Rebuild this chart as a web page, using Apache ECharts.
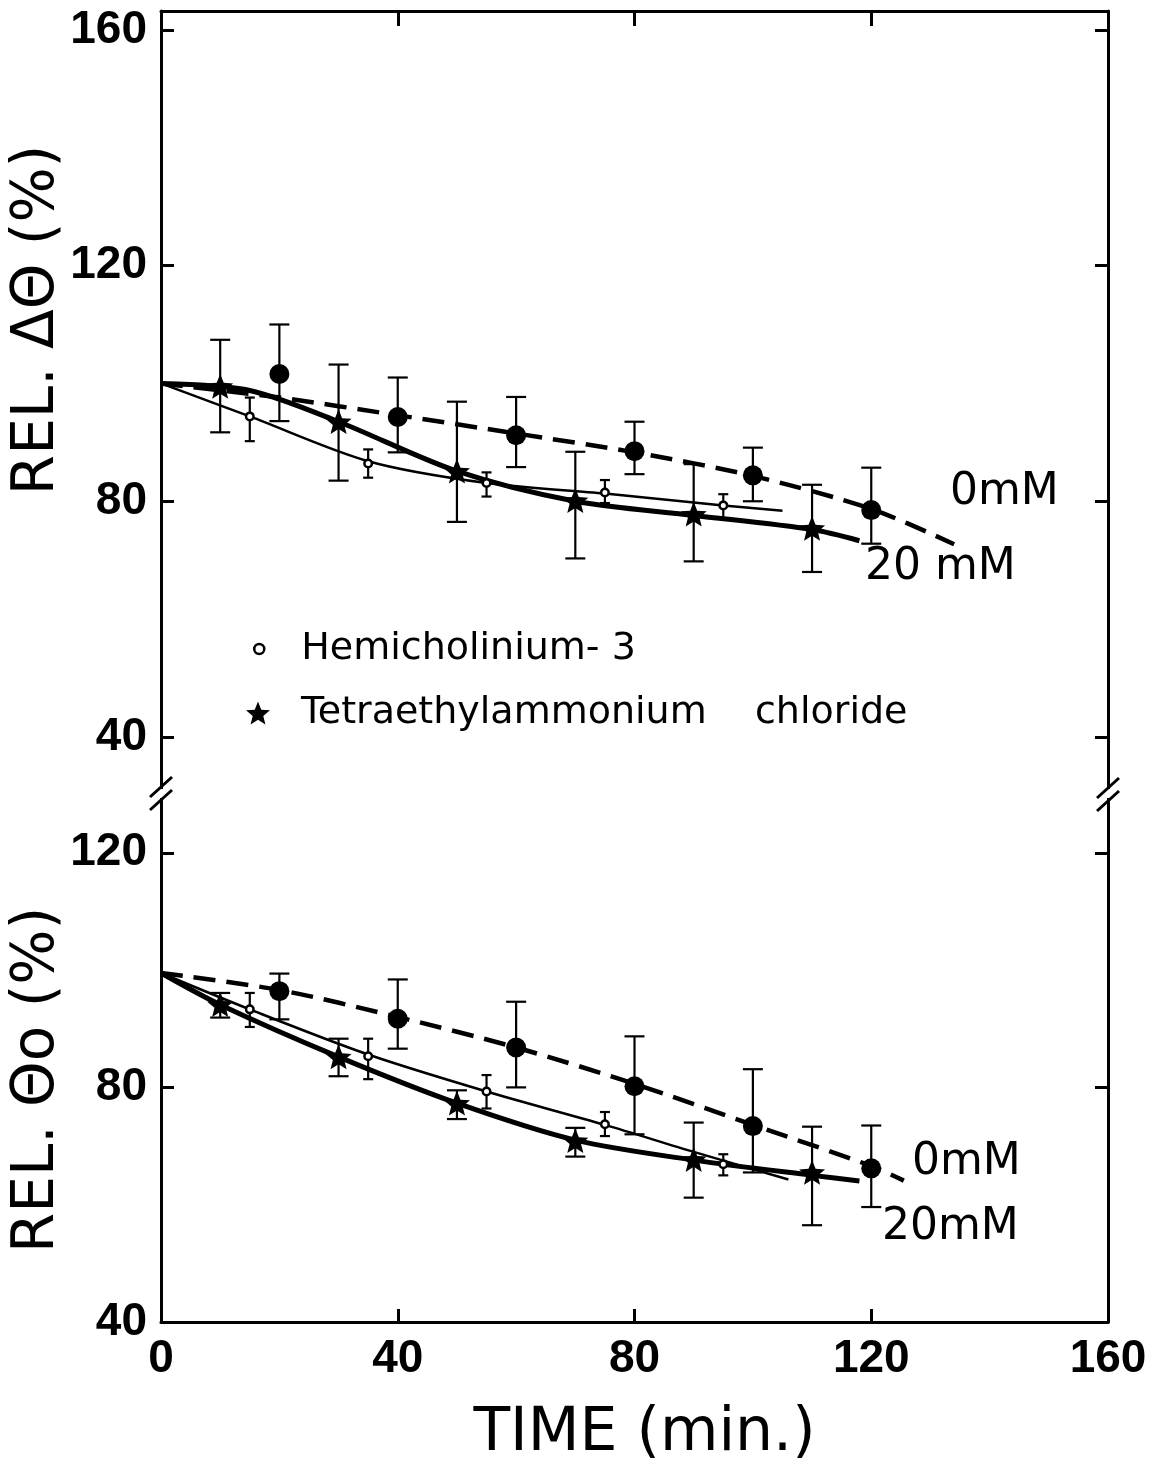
<!DOCTYPE html>
<html><head><meta charset="utf-8">
<script src="https://cdn.jsdelivr.net/npm/echarts@6/dist/echarts.min.js"></script>
<style>html,body{margin:0;padding:0;background:#fff}#c{width:1157px;height:1465px}</style>
</head><body><div id="c"></div>
<script>
// ---------------- data ----------------
const xTicks = [0, 40, 80, 120, 160];
const yTicksTop = [40, 80, 120, 160];
const yTicksBottom = [40, 80, 120];

// Upper panel: REL. ΔΘ (%)
const ctrlTopX  = [20, 40, 60, 80, 100, 120];
const ctrlTopY  = [101.6, 94.3, 91.2, 88.5, 84.4, 78.5];
const ctrlTopHi = [110.0, 101.0, 97.7, 93.5, 89.1, 85.7];
const ctrlTopLo = [93.6, 88.3, 85.8, 84.6, 80.0, 72.8];

const teaTopX  = [10, 30, 50, 70, 90, 110];
const teaTopY  = [99.5, 93.5, 85.1, 80.1, 77.8, 75.4];
const teaTopHi = [107.4, 103.2, 96.9, 88.4, 86.3, 82.8];
const teaTopLo = [91.7, 83.5, 76.5, 70.3, 69.8, 68.0];

const hcTopX  = [15, 35, 55, 75, 95];
const hcTopY  = [94.4, 86.4, 83.1, 81.5, 79.3];
const hcTopHi = [97.6, 88.8, 84.9, 83.6, 81.2];
const hcTopLo = [90.2, 84.0, 80.8, 79.7, 77.1];

const ctrlTopCurveX = [0, 20, 40, 60, 80, 100, 120, 134];
const ctrlTopCurveY = [100, 97.6, 94.6, 91.5, 88.3, 84.3, 78.7, 72.7];
const teaTopCurveX  = [0, 15, 30, 50, 70, 90, 110, 118];
const teaTopCurveY  = [100, 98.8, 93.5, 85.1, 80.0, 77.6, 75.2, 73.3];
const hcTopCurveX   = [0, 15, 35, 55, 75, 95, 105];
const hcTopCurveY   = [100, 94.4, 86.8, 83.1, 81.3, 79.3, 78.4];

// Lower panel: REL. Θo (%)
const ctrlBotX  = [20, 40, 60, 80, 100, 120];
const ctrlBotY  = [96.4, 91.7, 86.8, 80.2, 73.4, 66.2];
const ctrlBotHi = [99.4, 98.4, 94.6, 88.7, 83.1, 73.5];
const ctrlBotLo = [91.6, 86.6, 80.0, 72.0, 65.5, 59.6];

const teaBotX  = [10, 30, 50, 70, 90, 110];
const teaBotY  = [94.1, 85.2, 77.3, 70.9, 67.7, 65.5];
const teaBotHi = [96.1, 88.3, 79.5, 73.1, 74.0, 73.3];
const teaBotLo = [91.9, 81.9, 74.6, 68.2, 61.2, 56.5];

const hcBotX  = [15, 35, 55, 75, 95];
const hcBotY  = [93.3, 85.3, 79.3, 73.7, 66.9];
const hcBotHi = [96.1, 88.3, 82.1, 75.8, 68.6];
const hcBotLo = [90.3, 81.4, 76.4, 71.7, 65.0];

const ctrlBotCurveX = [0, 20, 40, 60, 80, 100, 120, 125.5];
const ctrlBotCurveY = [99.5, 96.6, 92.0, 86.8, 80.6, 73.6, 66.6, 64.1];
const teaBotCurveX  = [0, 10, 30, 50, 70, 90, 110, 118];
const teaBotCurveY  = [99.5, 94.1, 85.2, 77.3, 71.0, 67.6, 65.0, 64.05];
const hcBotCurveX   = [0, 15, 35, 55, 75, 90, 106];
const hcBotCurveY   = [99.5, 93.3, 85.6, 79.3, 73.6, 69.0, 64.3];

const nameHC  = 'Hemicholinium- 3';
const nameTEA = 'Tetraethylammonium chloride';
const nameCtrl = '0 mM';

// ---------------- helpers ----------------
const zip = (xs, ys) => xs.map((x, i) => [x, ys[i]]);
const zip3 = (xs, lo, hi) => xs.map((x, i) => [x, lo[i], hi[i]]);
const starPath = 'path://M50 0 L62.93 32.2 L97.55 34.55 L70.92 56.8 L79.39 90.45 L50 72 L20.61 90.45 L29.08 56.8 L2.45 34.55 L37.07 32.2 Z';
const FONT = 'DejaVu Sans';
const black = '#000';
const axisLine = {show: true, onZero: false, lineStyle: {color: black, width: 3}};
const tickStyle = {color: black, width: 3};

function errSeries(name, gridIdx, data, cap) {
  return {
    type: 'custom', name: name + ' error', xAxisIndex: gridIdx, yAxisIndex: gridIdx * 2,
    z: 2, silent: true, encode: {x: 0, y: [1, 2]}, data: data,
    renderItem: function (params, api) {
      const x = api.value(0), lo = api.value(1), hi = api.value(2);
      const a = api.coord([x, lo]), b = api.coord([x, hi]);
      const st = {stroke: black, lineWidth: 2.2};
      return {type: 'group', children: [
        {type: 'line', shape: {x1: a[0], y1: a[1], x2: b[0], y2: b[1]}, style: st},
        {type: 'line', shape: {x1: a[0] - cap, y1: a[1], x2: a[0] + cap, y2: a[1]}, style: st},
        {type: 'line', shape: {x1: b[0] - cap, y1: b[1], x2: b[0] + cap, y2: b[1]}, style: st}
      ]};
    }
  };
}
function curve(name, gridIdx, data, width, dashed) {
  return {
    type: 'line', name: name, xAxisIndex: gridIdx, yAxisIndex: gridIdx * 2, data: data,
    symbol: 'none', smooth: 0.3, z: 3, silent: true,
    lineStyle: {color: black, width: width, opacity: 1, type: dashed ? [22, 11] : 'solid', cap: 'butt'}
  };
}
function points(name, gridIdx, data, kind) {
  const s = {type: 'scatter', name: name, xAxisIndex: gridIdx, yAxisIndex: gridIdx * 2, data: data, z: 5};
  if (kind === 'ctrl') { s.symbol = 'circle'; s.symbolSize = 20; s.itemStyle = {color: black, opacity: 1}; }
  if (kind === 'tea')  { s.symbol = starPath; s.symbolSize = 26; s.symbolKeepAspect = true; s.itemStyle = {color: black, opacity: 1}; }
  if (kind === 'hc')   { s.symbol = 'circle'; s.symbolSize = 7.5; s.itemStyle = {color: '#fff', borderColor: black, borderWidth: 2.5, opacity: 1}; }
  return s;
}
function yLeft(grid, min, max, ticks) {
  return {type: 'value', gridIndex: grid, position: 'left', min: min, max: max,
    axisLine: axisLine, splitLine: {show: false},
    axisTick: {show: true, inside: true, length: 13, lineStyle: tickStyle, customValues: ticks},
    axisLabel: {show: true, customValues: ticks, margin: 14, fontFamily: 'Liberation Sans', fontWeight: 'bold', fontSize: 46, color: black}};
}
function yRight(grid, min, max, ticks) {
  return {type: 'value', gridIndex: grid, position: 'right', min: min, max: max,
    axisLine: axisLine, splitLine: {show: false},
    axisTick: {show: true, inside: true, length: 13, lineStyle: tickStyle, customValues: ticks},
    axisLabel: {show: false}};
}

// ---------------- chart ----------------
const chart = echarts.init(document.getElementById('c'), null, {renderer: 'canvas'});
const option = {
  backgroundColor: '#fff',
  animation: false,
  grid: [
    {left: 161, width: 947, top: 11, height: 779},
    {left: 161, width: 947, top: 790, height: 533}
  ],
  xAxis: [
    {type: 'value', gridIndex: 0, position: 'top', min: 0, max: 160, interval: 40,
      axisLine: axisLine, splitLine: {show: false},
      axisTick: {show: true, inside: true, length: 15, lineStyle: tickStyle},
      axisLabel: {show: false}},
    {type: 'value', gridIndex: 1, position: 'bottom', min: 0, max: 160, interval: 40,
      axisLine: axisLine, splitLine: {show: false},
      axisTick: {show: true, inside: true, length: 13, lineStyle: tickStyle, customValues: xTicks},
      axisLabel: {show: true, customValues: xTicks, margin: 14, fontFamily: 'Liberation Sans', fontWeight: 'bold', fontSize: 46, color: black},
      name: 'TIME (min.)', nameLocation: 'middle', nameGap: 82,
      nameTextStyle: {fontFamily: FONT, fontSize: 60, color: black, padding: [0, 0, 0, 20]}}
  ],
  yAxis: [
    yLeft(0, 31, 163.2, yTicksTop),
    yRight(0, 31, 163.2, yTicksTop),
    yLeft(1, 40, 130.7, yTicksBottom),
    yRight(1, 40, 130.7, yTicksBottom)
  ],
  legend: [
    {data: [{name: nameHC, icon: 'circle'}], left: 253, top: 630, orient: 'vertical', padding: 0,
      itemWidth: 10, itemHeight: 10, selectedMode: false,
      itemStyle: {color: '#fff', borderColor: black, borderWidth: 2.5, opacity: 1},
      textStyle: {fontFamily: FONT, fontSize: 38, lineHeight: 38, color: black, padding: [0, 0, 0, 32]}},
    {data: [{name: nameTEA, icon: starPath}], left: 246, top: 694, orient: 'vertical', padding: 0,
      itemWidth: 24, itemHeight: 24, selectedMode: false, symbolKeepAspect: true,
      itemStyle: {color: black, opacity: 1},
      formatter: () => 'Tetraethylammonium    chloride',
      textStyle: {fontFamily: FONT, fontSize: 38, lineHeight: 38, color: black, padding: [0, 0, 0, 26]}}
  ],
  series: [
    errSeries(nameCtrl, 0, zip3(ctrlTopX, ctrlTopLo, ctrlTopHi), 10),
    errSeries(nameTEA, 0, zip3(teaTopX, teaTopLo, teaTopHi), 10),
    errSeries(nameHC, 0, zip3(hcTopX, hcTopLo, hcTopHi), 5),
    curve('0 mM curve', 0, zip(ctrlTopCurveX, ctrlTopCurveY), 4.5, true),
    curve('20 mM TEA curve', 0, zip(teaTopCurveX, teaTopCurveY), 5, false),
    curve('20 mM HC-3 curve', 0, zip(hcTopCurveX, hcTopCurveY), 2.5, false),
    points(nameCtrl, 0, zip(ctrlTopX, ctrlTopY), 'ctrl'),
    points(nameTEA, 0, zip(teaTopX, teaTopY), 'tea'),
    points(nameHC, 0, zip(hcTopX, hcTopY), 'hc'),

    errSeries(nameCtrl, 1, zip3(ctrlBotX, ctrlBotLo, ctrlBotHi), 10),
    errSeries(nameTEA, 1, zip3(teaBotX, teaBotLo, teaBotHi), 10),
    errSeries(nameHC, 1, zip3(hcBotX, hcBotLo, hcBotHi), 5),
    curve('0 mM curve', 1, zip(ctrlBotCurveX, ctrlBotCurveY), 4.5, true),
    curve('20 mM TEA curve', 1, zip(teaBotCurveX, teaBotCurveY), 5, false),
    curve('20 mM HC-3 curve', 1, zip(hcBotCurveX, hcBotCurveY), 2.5, false),
    points(nameCtrl, 1, zip(ctrlBotX, ctrlBotY), 'ctrl'),
    points(nameTEA, 1, zip(teaBotX, teaBotY), 'tea'),
    points(nameHC, 1, zip(hcBotX, hcBotY), 'hc')
  ],
  graphic: [
    // axis titles
    {type: 'text', x: 38, y: 320, rotation: Math.PI / 2,
      style: {text: 'REL. ΔΘ (%)', font: '58px "DejaVu Sans"', fill: black, textAlign: 'center', textVerticalAlign: 'middle'}},
    {type: 'text', x: 38, y: 1080, rotation: Math.PI / 2,
      style: {text: 'REL. Θo (%)', font: '58px "DejaVu Sans"', fill: black, textAlign: 'center', textVerticalAlign: 'middle'}},
    // curve annotations
    {type: 'text', x: 950, y: 493, style: {text: '0mM', font: '44px "DejaVu Sans"', fill: black, textVerticalAlign: 'middle'}},
    {type: 'text', x: 865, y: 568, style: {text: '20 mM', font: '44px "DejaVu Sans"', fill: black, textVerticalAlign: 'middle'}},
    {type: 'text', x: 912, y: 1163, style: {text: '0mM', font: '44px "DejaVu Sans"', fill: black, textVerticalAlign: 'middle'}},
    {type: 'text', x: 882, y: 1228, style: {text: '20mM', font: '44px "DejaVu Sans"', fill: black, textVerticalAlign: 'middle'}},
    // axis break marks
    {type: 'rect', shape: {x: 157, y: 789, width: 8, height: 9}, style: {fill: '#fff'}, z: 100},
    {type: 'rect', shape: {x: 1104, y: 789, width: 8, height: 9}, style: {fill: '#fff'}, z: 100},
    {type: 'line', shape: {x1: 150, y1: 797, x2: 172, y2: 777}, style: {stroke: black, lineWidth: 3}, z: 101},
    {type: 'line', shape: {x1: 150, y1: 810, x2: 172, y2: 790}, style: {stroke: black, lineWidth: 3}, z: 101},
    {type: 'line', shape: {x1: 1097, y1: 798, x2: 1119, y2: 778}, style: {stroke: black, lineWidth: 3}, z: 101},
    {type: 'line', shape: {x1: 1097, y1: 811, x2: 1119, y2: 791}, style: {stroke: black, lineWidth: 3}, z: 101}
  ]
};
chart.setOption(option);
</script>
</body></html>
